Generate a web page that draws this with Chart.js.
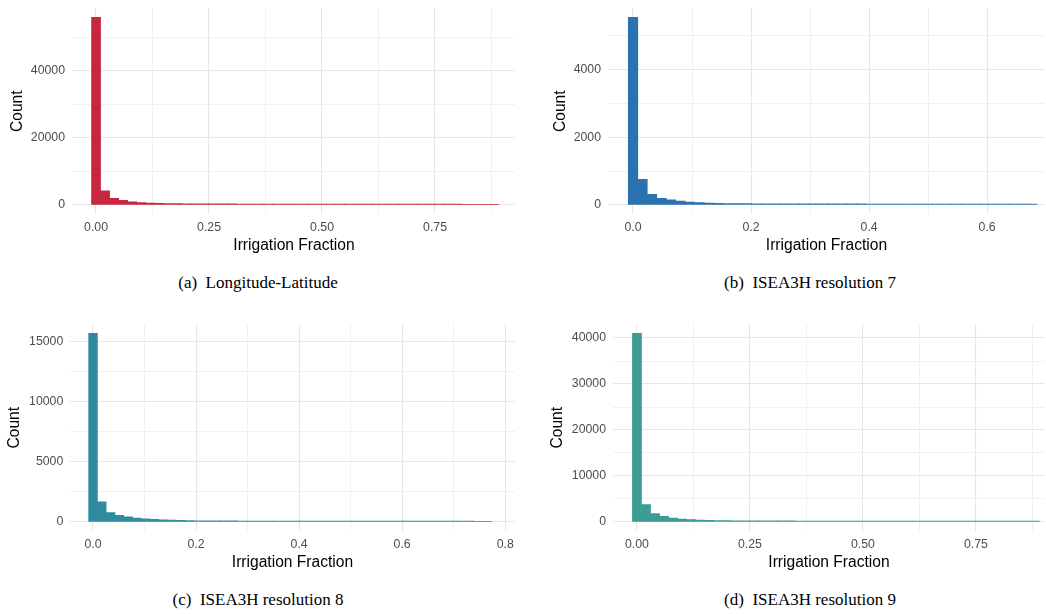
<!DOCTYPE html>
<html>
<head>
<meta charset="utf-8">
<script src="https://cdn.jsdelivr.net/npm/chart.js@4.4.1/dist/chart.umd.min.js"></script>
<style>
  body { margin: 0; background: #fff; width: 1046px; height: 614px; position: relative; overflow: hidden; }
  canvas { position: absolute; }
  .cap { position: absolute; font-family: "Liberation Serif", "Times New Roman", serif; font-size: 17px;
         line-height: 20px; white-space: pre; transform: translateX(-50%); color: #000; }
</style>
</head>
<body>
<canvas id="histA" width="520" height="260" style="left:0;top:0"></canvas>
<canvas id="histB" width="506" height="260" style="left:540px;top:0"></canvas>
<canvas id="histC" width="520" height="260" style="left:0;top:316px"></canvas>
<canvas id="histD" width="506" height="260" style="left:540px;top:316px"></canvas>

<div class="cap" style="left:258px;top:273px">(a)  Longitude-Latitude</div>
<div class="cap" style="left:810px;top:273px">(b)  ISEA3H resolution 7</div>
<div class="cap" style="left:258px;top:590px">(c)  ISEA3H resolution 8</div>
<div class="cap" style="left:810px;top:590px">(d)  ISEA3H resolution 9</div>

<script>
// (a) Longitude-Latitude
const binWidthA = 0.02;
const countsA = [56000, 4250, 2000, 1400, 950, 700, 560, 480, 430, 400,
  380, 360, 350, 340, 330, 320, 315, 310, 305, 300,
  300, 295, 290, 290, 285, 280, 280, 275, 270, 270,
  265, 265, 260, 260, 255, 255, 250, 250, 250, 245,
  245, 240, 240, 240, 235];
const xTicksA = [0, 0.125, 0.25, 0.375, 0.5, 0.625, 0.75, 0.875];
const yTicksA = [0, 10000, 20000, 30000, 40000, 50000];

// (b) ISEA3H resolution 7
const binWidthB = 0.0161;
const countsB = [5530, 755, 315, 200, 157, 118, 90, 70, 60, 52,
  46, 42, 40, 38, 37, 36, 35, 35, 34, 34,
  33, 33, 32, 32, 32, 31, 31, 31, 30, 30,
  30, 30, 29, 29, 29, 29, 28, 28, 28, 28,
  27, 27, 27];
const xTicksB = [0, 0.1, 0.2, 0.3, 0.4, 0.5, 0.6, 0.7];
const yTicksB = [0, 1000, 2000, 3000, 4000, 5000];

// (c) ISEA3H resolution 8
const binWidthC = 0.017;
const countsC = [15700, 1670, 790, 560, 420, 330, 260, 210, 175, 150,
  130, 115, 105, 98, 92, 88, 85, 83, 81, 80,
  78, 77, 76, 75, 74, 73, 72, 72, 71, 70,
  70, 69, 69, 68, 68, 67, 67, 66, 66, 65,
  65, 65, 64, 64, 63, 63];
const xTicksC = [0, 0.1, 0.2, 0.3, 0.4, 0.5, 0.6, 0.7, 0.8];
const yTicksC = [0, 2500, 5000, 7500, 10000, 12500, 15000];

// (d) ISEA3H resolution 9
const binWidthD = 0.02;
const countsD = [41000, 3760, 1800, 1220, 870, 650, 510, 420, 360, 320,
  290, 270, 255, 245, 238, 232, 227, 223, 220, 217,
  215, 213, 211, 209, 207, 205, 204, 203, 202, 201,
  200, 199, 198, 197, 196, 195, 194, 193, 192, 191,
  190, 189, 188, 187, 186];
const xTicksD = [0, 0.125, 0.25, 0.375, 0.5, 0.625, 0.75, 0.875];
const yTicksD = [0, 5000, 10000, 15000, 20000, 25000, 30000, 35000, 40000];

const FONT = '"Liberation Sans", Arial, sans-serif';
const majorGrid = '#E6E6E6';
const minorGrid = '#EDEDED';

function makeHist(id, p) {
  const points = p.counts.map((c, i) => ({ x: i * p.binWidth, y: c }));
  const gridOpts = {
    color: ctx => ctx.index % 2 === 0 ? majorGrid : minorGrid,
    lineWidth: ctx => ctx.index % 2 === 0 ? 1.1 : 0.8,
    drawTicks: false,
    offset: false
  };
  return new Chart(document.getElementById(id), {
    type: 'bar',
    data: {
      datasets: [{
        data: points,
        backgroundColor: p.color,
        borderWidth: 0,
        barPercentage: 1,
        categoryPercentage: 1
      }]
    },
    options: {
      responsive: false,
      animation: false,
      layout: { padding: { top: 8, right: p.padRight, bottom: 0, left: 0 } },
      plugins: { legend: { display: false }, tooltip: { enabled: false } },
      scales: {
        x: {
          type: 'linear',
          offset: false,
          min: p.xMin,
          max: p.xMax,
          afterBuildTicks: s => { s.ticks = p.xTicks.map(v => ({ value: v })); },
          // fixed box so the plot area lands where the reference has it
          afterFit: s => { s.height = p.xHeight; s.paddingLeft = 0; s.paddingRight = 0; },
          grid: gridOpts,
          border: { display: false },
          ticks: {
            autoSkip: false,
            maxRotation: 0,
            padding: 6,
            color: '#4D4D4D',
            font: { family: FONT, size: 12.3 },
            callback: (v, i) => i % 2 === 0 ? v.toFixed(p.digits) : ''
          },
          title: {
            display: true,
            text: 'Irrigation Fraction',
            color: '#000',
            font: { family: FONT, size: 15.6 },
            padding: { top: 0, bottom: p.xTitlePad }
          }
        },
        y: {
          min: p.yMin,
          max: p.yMax,
          afterBuildTicks: s => { s.ticks = p.yTicks.map(v => ({ value: v })); },
          afterFit: s => { s.width = p.yWidth; s.paddingTop = 0; s.paddingBottom = 0; },
          grid: gridOpts,
          border: { display: false },
          ticks: {
            padding: p.yTickPad,
            color: '#4D4D4D',
            font: { family: FONT, size: 12.3 },
            callback: (v, i) => i % 2 === 0 ? String(v) : ''
          },
          title: {
            display: true,
            text: 'Count',
            color: '#000',
            font: { family: FONT, size: 15.6 },
            padding: { top: p.yTitlePad, bottom: 0 }
          }
        }
      }
    }
  });
}

makeHist('histA', {
  counts: countsA, binWidth: binWidthA, xTicks: xTicksA, yTicks: yTicksA,
  color: '#C8253F', digits: 2,
  xMin: -0.051, xMax: 0.927, yMin: -2800, yMax: 58800,
  yWidth: 73, yTickPad: 8, yTitlePad: 8, xHeight: 45.6, xTitlePad: 4.6, padRight: 5
});

makeHist('histB', {
  counts: countsB, binWidth: binWidthB, xTicks: xTicksB, yTicks: yTicksB,
  color: '#2B72B0', digits: 1,
  xMin: -0.0424, xMax: 0.698, yMin: -276, yMax: 5806,
  yWidth: 68, yTickPad: 7, yTitlePad: 11.3, xHeight: 45.6, xTitlePad: 4.6, padRight: 1
});

makeHist('histC', {
  counts: countsC, binWidth: binWidthC, xTicks: xTicksC, yTicks: yTicksC,
  color: '#2E8BA0', digits: 1,
  xMin: -0.0447, xMax: 0.819, yMin: -785, yMax: 16485,
  yWidth: 70, yTickPad: 6.7, yTitlePad: 5.6, xHeight: 44.6, xTitlePad: 3.9, padRight: 5
});

makeHist('histD', {
  counts: countsD, binWidth: binWidthD, xTicks: xTicksD, yTicks: yTicksD,
  color: '#3B9C94', digits: 2,
  xMin: -0.053, xMax: 0.9027, yMin: -2050, yMax: 43050,
  yWidth: 73, yTickPad: 7, yTitlePad: 8.6, xHeight: 44.6, xTitlePad: 3.9, padRight: 1
});
</script>
</body>
</html>
